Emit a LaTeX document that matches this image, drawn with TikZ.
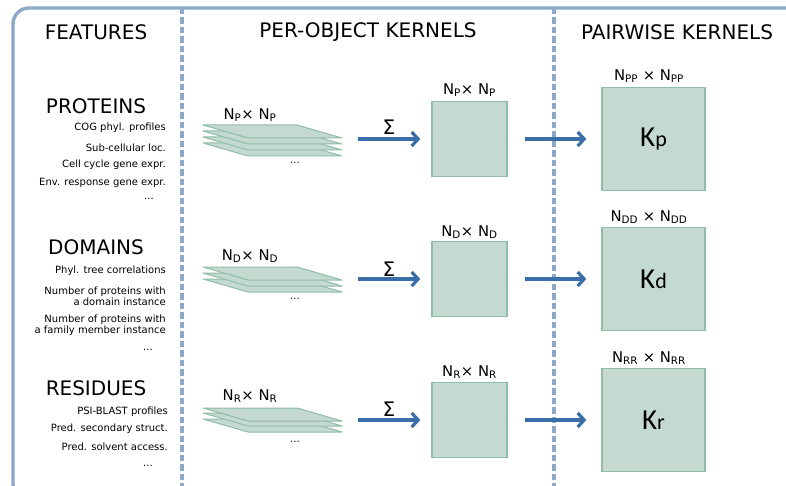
\documentclass[tikz,border=0pt]{standalone}
\usepackage{fontspec}
\setmainfont{DejaVu Sans}
\newfontfamily\kfont{Carlito}
\usetikzlibrary{arrows.meta}

\definecolor{framecol}{HTML}{8DA9C9}
\definecolor{sheetfill}{HTML}{C4D9CF}
\definecolor{sheetline}{HTML}{8FBDA6}
\definecolor{flowcol}{HTML}{3B6EA8}

\tikzset{
  heading/.style={font=\fontsize{20}{22}\selectfont, inner sep=0pt},
  feat/.style={font=\fontsize{10}{11}\selectfont, align=right, anchor=east, inner sep=0pt},
  dims/.style={font=\fontsize{14.8}{16}\selectfont, inner sep=0pt},
  sheet/.style={fill=sheetfill, draw=sheetline, line width=1pt, line join=round},
  kbox/.style={fill=sheetfill, draw=sheetline, line width=1.3pt, minimum width=75pt, minimum height=75pt, inner sep=0pt},
  pbox/.style={kbox, minimum width=103pt, minimum height=103pt, font=\kfont\fontsize{29}{30}\selectfont},
  flow/.style={draw=flowcol, line width=3.2pt, -{Straight Barb[length=6.5pt,width=14pt]}},
  colsep/.style={draw=framecol, line width=3.2pt, dash pattern=on 6.5pt off 3pt},
}

\begin{document}
\begin{tikzpicture}[x=1pt,y=-1pt]
    \clip (0,0) rectangle (786,486);
    \draw[framecol, line width=3.4pt, rounded corners=16pt] (13,8) rectangle (830,500);
    \draw[colsep] (182,8) -- (182,490);
    \draw[colsep] (554,8) -- (554,490);

    \node[heading] (hFeat) at (96,32) {FEATURES};
    \node[heading] (hObj) at (368,32) {PER-OBJECT KERNELS};
    \node[heading] (hPair) at (677,32) {PAIRWISE KERNELS};

    \node[heading] (protein) at (96,106) {PROTEINS};
    \node[heading] (domain) at (96,247) {DOMAINS};
    \node[heading] (residue) at (96,388) {RESIDUES};

    \begin{scope}[every node/.style={feat}]
        \node (f1) at (166,128) {COG phyl. profiles};
        \node (f2) at (166,148) {Sub-cellular loc.};
        \node (f3) at (166,165) {Cell cycle gene expr.};
        \node (f4) at (166,183) {Env. response gene expr.};
        \node (f5) at (166,271) {Phyl. tree correlations};
        \node (f6) at (166,296.5) {Number of proteins with\\a domain instance};
        \node (f7) at (166,325.5) {Number of proteins with\\a family member instance};
        \node (f8) at (168,412) {PSI-BLAST profiles};
        \node (f9) at (168,429) {Pred. secondary struct.};
        \node (f10) at (168,447) {Pred. solvent access.};
    \end{scope}
    \node[feat, anchor=center] (fdotsP) at (149,199) {...};
    \node[feat, anchor=center] (fdotsD) at (148,350) {...};
    \node[feat, anchor=center] (fdotsR) at (148,466) {...};

    % proteins
    \foreach \y in {143,137,131,125}
        \path[sheet] (203,\y) -- ++(94,0) -- ++(45,13) -- ++(-94,0) -- cycle;
    \node[dims] (nP) at (250,115) {N\textsubscript{P}× N\textsubscript{P}};
    \node[feat, anchor=center] (sdotsP) at (295,163) {...};
    \coordinate (stackP) at (343,139);
    \node[heading] (sumP) at (389,127) {Σ};
    \node[kbox] (kP) at (469.5,139) {};
    \node[dims] (nkP) at (469.5,90) {N\textsubscript{P}× N\textsubscript{P}};
    \node[pbox] (pP) at (653.5,139) {K{\fontsize{22}{22}\selectfont p}};
    \node[dims] (npP) at (649,76) {N\textsubscript{PP} × N\textsubscript{PP}};
    \draw[flow, shorten <=15pt, shorten >=11pt] (stackP) -- (kP);
    \draw[flow, shorten <=17pt, shorten >=15pt] (kP) -- (pP);

    % domains
    \foreach \y in {279,273,267}
        \path[sheet] (203,\y) -- ++(94,0) -- ++(45,13) -- ++(-94,0) -- cycle;
    \node[dims] (nD) at (250,256) {N\textsubscript{D}× N\textsubscript{D}};
    \node[feat, anchor=center] (sdotsD) at (295,299) {...};
    \coordinate (stackD) at (343,279);
    \node[heading] (sumD) at (389,269) {Σ};
    \node[kbox] (kD) at (469.5,279) {};
    \node[dims] (nkD) at (469.5,232) {N\textsubscript{D}× N\textsubscript{D}};
    \node[pbox] (pD) at (653.5,279) {K{\fontsize{22}{22}\selectfont d}};
    \node[dims] (npD) at (649,217) {N\textsubscript{DD} × N\textsubscript{DD}};
    \draw[flow, shorten <=15pt, shorten >=11pt] (stackD) -- (kD);
    \draw[flow, shorten <=17pt, shorten >=15pt] (kD) -- (pD);

    % residues
    \foreach \y in {419,413,408}
        \path[sheet] (203,\y) -- ++(94,0) -- ++(45,13) -- ++(-94,0) -- cycle;
    \node[dims] (nR) at (250,396) {N\textsubscript{R}× N\textsubscript{R}};
    \node[feat, anchor=center] (sdotsR) at (295,442) {...};
    \coordinate (stackR) at (343,420);
    \node[heading] (sumR) at (389,409.5) {Σ};
    \node[kbox] (kR) at (469.5,420) {};
    \node[dims] (nkR) at (469.5,372) {N\textsubscript{R}× N\textsubscript{R}};
    \node[pbox] (pR) at (653.5,420) {K{\fontsize{22}{22}\selectfont r}};
    \node[dims] (npR) at (649,358) {N\textsubscript{RR} × N\textsubscript{RR}};
    \draw[flow, shorten <=15pt, shorten >=11pt] (stackR) -- (kR);
    \draw[flow, shorten <=17pt, shorten >=15pt] (kR) -- (pR);
\end{tikzpicture}
\end{document}
